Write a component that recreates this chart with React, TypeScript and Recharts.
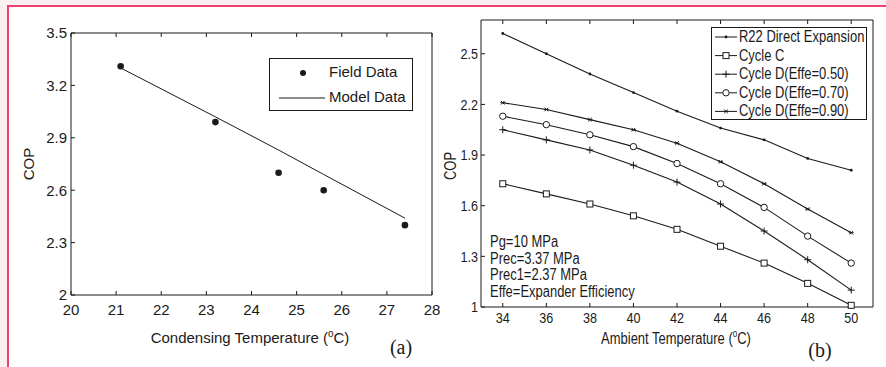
import React from "react";
import {
  ComposedChart,
  LineChart,
  Line,
  Scatter,
  XAxis,
  YAxis,
} from "recharts";

// panel (a)
const condTemp = [21.1, 23.2, 24.6, 25.6, 27.4];
const fieldCop = [3.31, 2.99, 2.7, 2.6, 2.4];
const modelCop = [3.3, 3.02, 2.83, 2.69, 2.44];
const xTicksA = [20, 21, 22, 23, 24, 25, 26, 27, 28];
const yTicksA = [2, 2.3, 2.6, 2.9, 3.2, 3.5];

// panel (b)
const ambTemp = [34, 36, 38, 40, 42, 44, 46, 48, 50];
const r22 = [2.62, 2.5, 2.38, 2.27, 2.16, 2.06, 1.99, 1.88, 1.81];
const cycleC = [1.73, 1.67, 1.61, 1.54, 1.46, 1.36, 1.26, 1.14, 1.01];
const cycleD50 = [2.05, 1.99, 1.93, 1.84, 1.74, 1.61, 1.45, 1.28, 1.1];
const cycleD70 = [2.13, 2.08, 2.02, 1.95, 1.85, 1.73, 1.59, 1.42, 1.26];
const cycleD90 = [2.21, 2.17, 2.11, 2.05, 1.97, 1.86, 1.73, 1.58, 1.44];
const xTicksB = [34, 36, 38, 40, 42, 44, 46, 48, 50];
const yTicksB = [1, 1.3, 1.6, 1.9, 2.2, 2.5];
const notes = ["Pg=10 MPa", "Prec=3.37 MPa", "Prec1=2.37 MPa", "Effe=Expander Efficiency"];

const dataA = condTemp.map((t, i) => ({ t, field: fieldCop[i], model: modelCop[i] }));
const dataB = ambTemp.map((t, i) => ({
  t,
  r22: r22[i],
  c: cycleC[i],
  d50: cycleD50[i],
  d70: cycleD70[i],
  d90: cycleD90[i],
}));

const INK = "#1a1a1a";
const font = '"Liberation Sans", Arial, sans-serif';
const NARROW = 0.81; // panel (b) uses a condensed face

type Mk = "dot" | "square" | "plus" | "circle" | "star";

const marker = (kind: Mk, cx: number, cy: number, key?: any) => {
  switch (kind) {
    case "dot":
      return <circle key={key} cx={cx} cy={cy} r={1.4} fill={INK} />;
    case "square":
      return <rect key={key} x={cx - 3} y={cy - 3} width={6} height={6} fill="#fff" stroke={INK} strokeWidth={1} />;
    case "plus":
      return (
        <g key={key}>
          <line x1={cx - 3.5} y1={cy} x2={cx + 3.5} y2={cy} stroke={INK} />
          <line x1={cx} y1={cy - 3.5} x2={cx} y2={cy + 3.5} stroke={INK} />
        </g>
      );
    case "circle":
      return <circle key={key} cx={cx} cy={cy} r={3.2} fill="#fff" stroke={INK} strokeWidth={1} />;
    case "star":
      return (
        <g key={key}>
          <line x1={cx - 2.5} y1={cy} x2={cx + 2.5} y2={cy} stroke={INK} />
          <line x1={cx - 1.8} y1={cy - 1.8} x2={cx + 1.8} y2={cy + 1.8} stroke={INK} />
          <line x1={cx - 1.8} y1={cy + 1.8} x2={cx + 1.8} y2={cy - 1.8} stroke={INK} />
        </g>
      );
  }
};

const seriesB: { key: string; name: string; mk: Mk }[] = [
  { key: "r22", name: "R22 Direct Expansion", mk: "dot" },
  { key: "c", name: "Cycle C", mk: "square" },
  { key: "d50", name: "Cycle D(Effe=0.50)", mk: "plus" },
  { key: "d70", name: "Cycle D(Effe=0.70)", mk: "circle" },
  { key: "d90", name: "Cycle D(Effe=0.90)", mk: "star" },
];

const abs = (left: number, top: number): React.CSSProperties => ({
  position: "absolute",
  left,
  top,
});

const noLabel = () => "";

const NarrowTick = (props: any) => {
  const { x, y, payload, textAnchor, verticalAnchor } = props;
  const dy = verticalAnchor === "start" ? "0.71em" : "0.355em";
  return (
    <text
      transform={`translate(${x},${y}) scale(0.84,1)`}
      textAnchor={textAnchor}
      dy={dy}
      fill={INK}
      fontSize={15}
      fontFamily={font}
    >
      {payload.value}
    </text>
  );
};

const Narrow = ({ children, origin = "left" }: { children: React.ReactNode; origin?: string }) => (
  <span
    style={{
      display: "inline-block",
      transform: `scaleX(${NARROW})`,
      transformOrigin: origin,
      whiteSpace: "nowrap",
    }}
  >
    {children}
  </span>
);

export default function App() {
  const tickA = { fill: INK, fontSize: 15, fontFamily: font };
  return (
    <div
      style={{
        position: "absolute",
        left: 0,
        top: 0,
        width: 886,
        height: 367,
        background: "#fbf0f1",
        overflow: "hidden",
        fontFamily: font,
        color: INK,
      }}
    >
      <div
        style={{
          position: "absolute",
          left: 7,
          top: 5,
          width: 900,
          height: 400,
          background: "#fff",
          borderLeft: "2px solid #f2406e",
          borderTop: "2px solid #f2406e",
        }}
      />

      {/* panel (a) */}
      <div style={abs(0, 0)}>
        <ComposedChart
          width={440}
          height={367}
          data={dataA}
          margin={{ top: 32, right: 4, left: 31, bottom: 42 }}
        >
          <XAxis
            dataKey="t"
            type="number"
            domain={[20, 28]}
            ticks={xTicksA}
            tickSize={-4}
            tickMargin={13}
            stroke={INK}
            tick={tickA}
            height={30}
            interval={0}
          />
          <XAxis
            xAxisId="top"
            orientation="top"
            dataKey="t"
            type="number"
            domain={[20, 28]}
            ticks={xTicksA}
            tickSize={-4}
            tickFormatter={noLabel}
            stroke={INK}
            height={1}
            interval={0}
          />
          <YAxis
            type="number"
            domain={[2, 3.5]}
            ticks={yTicksA}
            tickSize={-4}
            tickMargin={8}
            stroke={INK}
            tick={tickA}
            width={40}
            interval={0}
          />
          <YAxis
            yAxisId="right"
            orientation="right"
            type="number"
            domain={[2, 3.5]}
            ticks={yTicksA}
            tickSize={-4}
            tickFormatter={noLabel}
            stroke={INK}
            width={4}
            interval={0}
          />
          <Line
            dataKey="model"
            stroke={INK}
            strokeWidth={1}
            dot={false}
            isAnimationActive={false}
          />
          <Scatter
            dataKey="field"
            fill={INK}
            isAnimationActive={false}
            shape={(p: any) => <circle cx={p.cx} cy={p.cy} r={3.3} fill={INK} />}
          />
        </ComposedChart>
      </div>

      <div
        style={{
          ...abs(28, 164),
          transform: "translate(-50%, -50%) rotate(-90deg)",
          fontSize: 15,
        }}
      >
        COP
      </div>
      <div
        style={{
          ...abs(250, 337),
          transform: "translate(-50%, -50%)",
          fontSize: 15,
          whiteSpace: "nowrap",
        }}
      >
        Condensing Temperature (<sup style={{ fontSize: 10 }}>o</sup>C)
      </div>
      <div
        style={{
          ...abs(401, 347),
          transform: "translate(-50%, -50%)",
          fontFamily: '"Liberation Serif", "Times New Roman", serif',
          fontSize: 20,
        }}
      >
        (a)
      </div>

      {/* legend (a) */}
      <div
        style={{
          ...abs(269, 58),
          width: 142,
          height: 51,
          border: `1.5px solid ${INK}`,
          background: "#fff",
          fontSize: 15,
        }}
      >
        <svg width={60} height={51} style={{ position: "absolute", left: 0, top: 0 }}>
          <circle cx={33} cy={14} r={3} fill={INK} />
          <line x1={9} y1={39} x2={55} y2={39} stroke={INK} />
        </svg>
        <div style={{ position: "absolute", left: 59, top: 4, whiteSpace: "nowrap" }}>Field Data</div>
        <div style={{ position: "absolute", left: 59, top: 29, whiteSpace: "nowrap" }}>Model Data</div>
      </div>

      {/* panel (b) */}
      <div style={abs(440, 0)}>
        <LineChart
          width={446}
          height={367}
          data={dataB}
          margin={{ top: 19, right: 9, left: 1, bottom: 30 }}
        >
          <XAxis
            dataKey="t"
            type="number"
            domain={[33, 51]}
            ticks={xTicksB}
            tickSize={-4}
            tickMargin={9}
            stroke={INK}
            tick={<NarrowTick />}
            height={30}
            interval={0}
          />
          <XAxis
            xAxisId="top"
            orientation="top"
            dataKey="t"
            type="number"
            domain={[33, 51]}
            ticks={xTicksB}
            tickSize={-4}
            tickFormatter={noLabel}
            stroke={INK}
            height={1}
            interval={0}
          />
          <YAxis
            type="number"
            domain={[1, 2.7]}
            ticks={yTicksB}
            tickSize={-4}
            tickMargin={7}
            stroke={INK}
            tick={<NarrowTick />}
            width={40}
            interval={0}
          />
          <YAxis
            yAxisId="right"
            orientation="right"
            type="number"
            domain={[1, 2.7]}
            ticks={yTicksB}
            tickSize={-4}
            tickFormatter={noLabel}
            stroke={INK}
            width={4}
            interval={0}
          />
          {seriesB.map((s) => (
            <Line
              key={s.key}
              dataKey={s.key}
              name={s.name}
              stroke={INK}
              strokeWidth={1.1}
              isAnimationActive={false}
              dot={(p: any) => marker(s.mk, p.cx, p.cy, `${s.key}-${p.index}`)}
              activeDot={false}
            />
          ))}
        </LineChart>
      </div>

      <div
        style={{
          ...abs(451, 166),
          transform: "translate(-50%, -50%) rotate(-90deg)",
          fontSize: 16,
        }}
      >
        <Narrow origin="center">COP</Narrow>
      </div>
      <div
        style={{
          ...abs(676, 338),
          transform: "translate(-50%, -50%)",
          fontSize: 16,
          whiteSpace: "nowrap",
        }}
      >
        <Narrow origin="center">
          Ambient Temperature (<sup style={{ fontSize: 10 }}>o</sup>C)
        </Narrow>
      </div>
      <div
        style={{
          ...abs(820, 350),
          transform: "translate(-50%, -50%)",
          fontFamily: '"Liberation Serif", "Times New Roman", serif',
          fontSize: 20,
        }}
      >
        (b)
      </div>

      {/* notes (b) */}
      <div
        style={{
          ...abs(490, 234),
          fontSize: 16,
          lineHeight: "16.7px",
          whiteSpace: "nowrap",
        }}
      >
        {notes.map((n) => (
          <div key={n}>
            <Narrow>{n}</Narrow>
          </div>
        ))}
      </div>

      {/* legend (b) */}
      <div
        style={{
          ...abs(711, 27),
          width: 154,
          height: 91,
          border: `1.5px solid ${INK}`,
          background: "#fff",
          fontSize: 16,
        }}
      >
        <svg width={30} height={91} style={{ position: "absolute", left: 0, top: 0 }}>
          {seriesB.map((s, i) => (
            <g key={s.key}>
              <line x1={3} y1={9 + i * 18.6} x2={25} y2={9 + i * 18.6} stroke={INK} />
              {marker(s.mk, 14, 9 + i * 18.6)}
            </g>
          ))}
        </svg>
        {seriesB.map((s, i) => (
          <div
            key={s.key}
            style={{ position: "absolute", left: 27, top: i * 18.6, lineHeight: "18px" }}
          >
            <Narrow>{s.name}</Narrow>
          </div>
        ))}
      </div>
    </div>
  );
}
